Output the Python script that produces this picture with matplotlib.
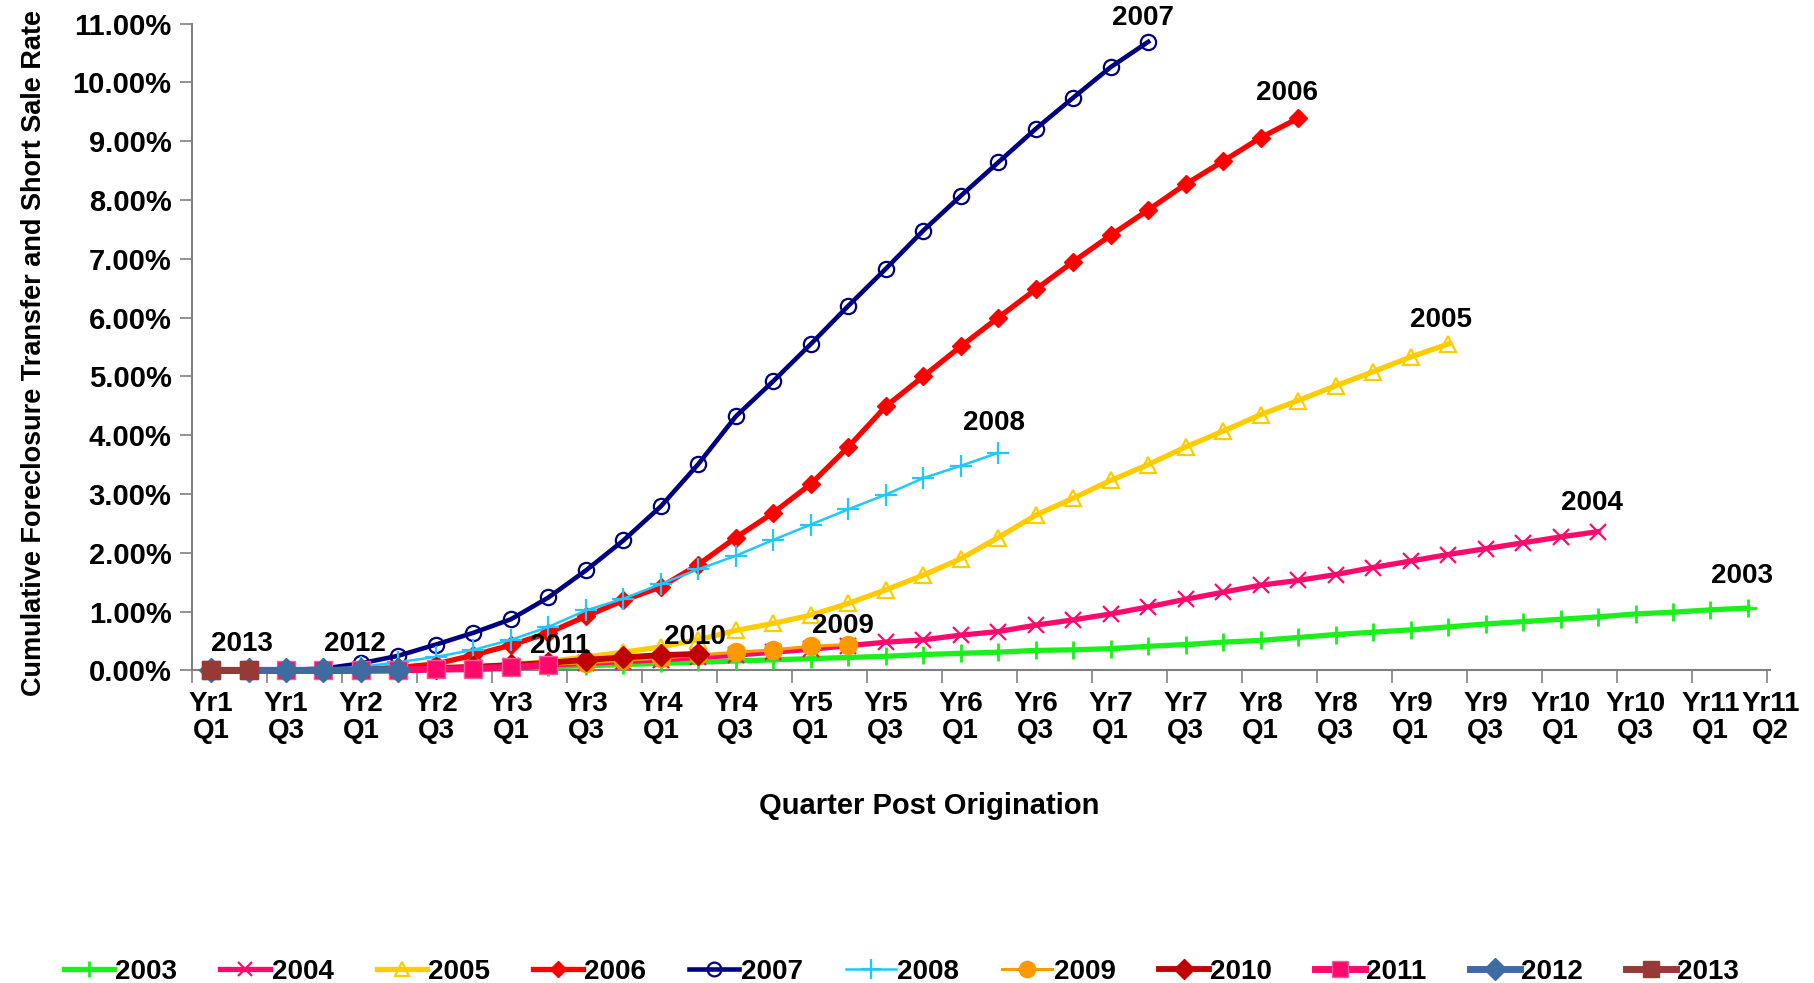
import numpy as np
import matplotlib
matplotlib.use('Agg')
import matplotlib.pyplot as plt
from matplotlib.ticker import FuncFormatter

plt.rcParams['font.family'] = ['Liberation Sans', 'DejaVu Sans']
plt.rcParams['font.weight'] = 'bold'

# quarter post origination, Yr1 Q1 .. Yr11 Q2
quarters = [f'Yr{y}\nQ{q}' for y in range(1, 12) for q in range(1, 5)][:42]

vintages = ['2003', '2004', '2005', '2006', '2007', '2008',
            '2009', '2010', '2011', '2012', '2013']

# cumulative foreclosure transfer + short sale rate, percent
y2003 = [0, 0, 0, 0, 0.01, 0.01, 0.02, 0.03, 0.04, 0.06, 0.08, 0.10, 0.12, 0.14,
         0.16, 0.18, 0.20, 0.22, 0.24, 0.27, 0.29, 0.31, 0.34, 0.35, 0.37, 0.41,
         0.44, 0.48, 0.51, 0.56, 0.61, 0.65, 0.69, 0.74, 0.79, 0.83, 0.87, 0.91,
         0.96, 0.99, 1.03, 1.06]
y2004 = [0, 0, 0, 0, 0.01, 0.02, 0.03, 0.05, 0.07, 0.09, 0.12, 0.15, 0.18, 0.22,
         0.26, 0.31, 0.36, 0.42, 0.48, 0.52, 0.60, 0.66, 0.77, 0.86, 0.96, 1.08,
         1.21, 1.33, 1.45, 1.53, 1.63, 1.75, 1.86, 1.97, 2.07, 2.17, 2.27, 2.36]
y2005 = [0, 0, 0, 0, 0.01, 0.02, 0.03, 0.06, 0.10, 0.15, 0.23, 0.31, 0.40, 0.52,
         0.68, 0.80, 0.94, 1.14, 1.37, 1.62, 1.90, 2.26, 2.64, 2.93, 3.23, 3.50,
         3.80, 4.07, 4.35, 4.59, 4.84, 5.08, 5.33, 5.55]
y2006 = [0, 0, 0, 0.01, 0.02, 0.05, 0.11, 0.26, 0.43, 0.64, 0.92, 1.19, 1.42, 1.80,
         2.26, 2.68, 3.17, 3.80, 4.49, 5.00, 5.51, 6.00, 6.48, 6.95, 7.40, 7.83,
         8.27, 8.66, 9.06, 9.39]
y2007 = [0, 0, 0.01, 0.03, 0.12, 0.25, 0.44, 0.64, 0.87, 1.24, 1.70, 2.21, 2.79,
         3.51, 4.32, 4.92, 5.55, 6.20, 6.83, 7.48, 8.07, 8.64, 9.21, 9.74, 10.26,
         10.69]
y2008 = [0, 0, 0.01, 0.02, 0.06, 0.14, 0.23, 0.35, 0.52, 0.74, 1.02, 1.22, 1.47,
         1.72, 1.95, 2.22, 2.48, 2.74, 2.99, 3.27, 3.48, 3.70]
y2009 = [0, 0, 0, 0, 0.01, 0.02, 0.03, 0.05, 0.07, 0.10, 0.13, 0.17, 0.21, 0.26,
         0.31, 0.35, 0.41, 0.44]
y2010 = [0, 0, 0, 0, 0.01, 0.02, 0.04, 0.06, 0.09, 0.13, 0.18, 0.22, 0.26, 0.28]
y2011 = [0, 0, 0, 0, 0, 0.01, 0.02, 0.03, 0.05, 0.09]
y2012 = [0, 0, 0, 0, 0.01, 0.01]
y2013 = [0, 0]

series = [y2003, y2004, y2005, y2006, y2007, y2008,
          y2009, y2010, y2011, y2012, y2013]

# where the vintage labels sit (category, percent)
label_x = [40.85, 36.85, 32.8, 28.7, 24.87, 20.9, 16.85, 12.9, 9.31, 3.83, 0.82]
label_y = [1.6, 2.85, 5.96, 9.82, 11.1, 4.2, 0.75, 0.57, 0.41, 0.45, 0.45]

styles = [
    dict(color='#1AF01A', lw=3.8, marker='+', ms=13, mew=2),
    dict(color='#FF0A6C', lw=3.8, marker='x', ms=11, mew=1.6),
    dict(color='#FFCC00', lw=3.8, marker='^', ms=11, mew=1.6, mfc='none'),
    dict(color='#FF0000', lw=3.8, marker='D', ms=9),
    dict(color='#000080', lw=3.3, marker='o', ms=11, mew=1.6, mfc='none'),
    dict(color='#1FC8FF', lw=1.8, marker='+', ms=16, mew=1.6),
    dict(color='#FF9900', lw=2.2, marker='o', ms=13),
    dict(color='#C00000', lw=4.2, marker='D', ms=11),
    dict(color='#FF0A6C', lw=5.0, marker='s', ms=13, mec='#F85C98'),
    dict(color='#3F6CA0', lw=5.0, marker='D', ms=12),
    dict(color='#963A37', lw=5.0, marker='s', ms=13),
]

fig = plt.figure(figsize=(18.14, 9.83), dpi=100)
ax = fig.add_axes([0.106, 0.318, 0.870, 0.658])

for name, vals, st in zip(vintages, series, styles):
    ax.plot(np.arange(len(vals)), vals, label=name, clip_on=False, zorder=3, **st)

for name, lx, ly in zip(vintages, label_x, label_y):
    ax.text(lx, ly, name, ha='center', va='center', fontsize=20,
            fontweight='bold', zorder=5)

ax.set_xlim(-0.5, 41.5)
ax.set_ylim(0, 11)

ax.set_yticks(np.arange(0, 12, 1))
ax.yaxis.set_major_formatter(FuncFormatter(lambda v, p: f'{v:.2f}%'))
ax.tick_params(axis='y', direction='out', length=9, width=1.2, color='#808080',
               labelsize=21, pad=6)

# tick marks between categories, labels on every other quarter
ax.set_xticks(np.arange(-0.5, 42, 2))
ax.set_xticklabels([])
lab_pos = list(range(0, 41, 2)) + [41.6]
lab_txt = [quarters[i] for i in range(0, 41, 2)] + [quarters[41]]
ax.set_xticks(lab_pos, lab_txt, minor=True)
ax.tick_params(axis='x', which='major', direction='out', length=9, width=1.2,
               color='#808080')
ax.tick_params(axis='x', which='minor', length=0, labelsize=20, pad=15)
for t in ax.get_xticklabels(minor=True):
    t.set_linespacing(1.05)

for s in ['top', 'right']:
    ax.spines[s].set_visible(False)
for s in ['left', 'bottom']:
    ax.spines[s].set_color('#808080')
    ax.spines[s].set_linewidth(1.5)

ax.set_ylabel('Cumulative Foreclosure Transfer and Short Sale Rate',
              fontsize=19.5, fontweight='bold')
ax.yaxis.set_label_coords(-0.1, 0.49)
ax.yaxis.label.set_va('center')
ax.set_xlabel('Quarter Post Origination', fontsize=21, fontweight='bold')
ax.xaxis.set_label_coords(0.467, -0.21)
ax.xaxis.label.set_va('center')

fig.legend(loc='lower center', bbox_to_anchor=(0.497, -0.027), ncol=11,
           frameon=False, fontsize=20, handlelength=1.8, handletextpad=0.05,
           columnspacing=1.55, markerscale=0.9)

plt.savefig('out.png', dpi=100)
